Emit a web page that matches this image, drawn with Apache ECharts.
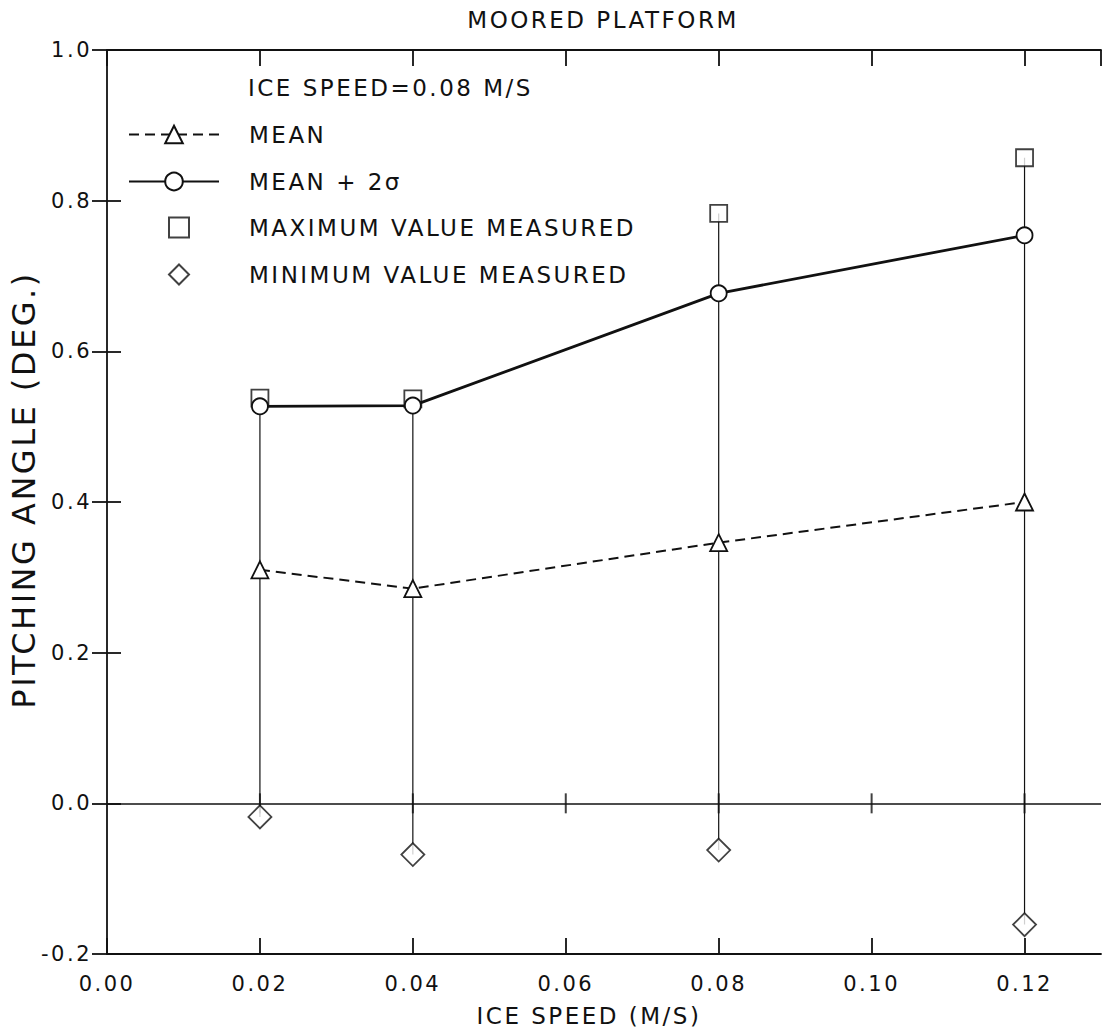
<!DOCTYPE html>
<html>
<head>
<meta charset="utf-8">
<script src="https://cdn.jsdelivr.net/npm/echarts@6/dist/echarts.min.js"></script>
<style>
  html, body { margin: 0; padding: 0; background: #fff; }
  #chart_container { width: 1102px; height: 1036px; }
  /* the original lettering is widely spaced */
  #chart_container text { letter-spacing: 2.5px; }
</style>
</head>
<body>
<div id="chart_container"></div>
<script>
// 数据
var iceSpeed = [0.02, 0.04, 0.08, 0.12]
var meanValues = [0.31, 0.285, 0.346, 0.40]
var mean2sValues = [0.527, 0.528, 0.677, 0.754]
var maxValues = [0.538, 0.537, 0.783, 0.857]
var minValues = [-0.018, -0.068, -0.062, -0.161]
var xTicks = [0.02, 0.04, 0.06, 0.08, 0.10, 0.12]

var FONT = 'DejaVu Sans'
var INK = '#111'

function toPairs(xs, ys) {
  var out = []
  for (var i = 0; i < xs.length; i++) {
    out.push([xs[i], ys[i]])
  }
  return out
}

function draw_pitching_chart() {
  var dom = document.getElementById('chart_container')
  var myChart = echarts.init(dom, null, { renderer: 'svg' })

  var rangeData = []
  for (var i = 0; i < iceSpeed.length; i++) {
    rangeData.push([iceSpeed[i], maxValues[i], minValues[i]])
  }

  var hollow = { color: '#fff', borderColor: INK, borderWidth: 1.8 }

  var option = {
    animation: false,
    backgroundColor: '#fff',
    textStyle: { fontFamily: FONT, color: INK },
    title: [{
      text: 'MOORED PLATFORM',
      left: 598,
      top: 3,
      textAlign: 'center',
      textStyle: { fontFamily: FONT, fontSize: 23, fontWeight: 'normal', color: INK }
    },
    {
      text: 'ICE SPEED=0.08 M/S',
      left: 243,
      top: 71,
      textStyle: { fontFamily: FONT, fontSize: 23, fontWeight: 'normal', color: INK }
    }],
    legend: [{
      orient: 'vertical',
      left: 123,
      top: 118,
      itemWidth: 90,
      itemHeight: 22,
      itemGap: 24,
      selectedMode: false,
      textStyle: { fontFamily: FONT, fontSize: 23, color: INK, padding: [0, 0, 0, 25] },
      data: ['MEAN', 'MEAN + 2σ']
    },
    {
      orient: 'vertical',
      left: 163,
      top: 211,
      itemWidth: 20,
      itemHeight: 20,
      itemGap: 24,
      selectedMode: false,
      textStyle: { fontFamily: FONT, fontSize: 23, color: INK, padding: [0, 0, 0, 55] },
      data: ['MAXIMUM VALUE MEASURED', 'MINIMUM VALUE MEASURED']
    }],
    grid: { left: 107, top: 50, width: 994, height: 904 },
    xAxis: [{
      type: 'value',
      position: 'bottom',
      min: 0,
      max: 0.13,
      interval: 0.02,
      name: 'ICE SPEED (M/S)',
      nameLocation: 'middle',
      nameGap: 50,
      nameTextStyle: { fontFamily: FONT, fontSize: 23, color: INK, padding: [0, 30, 0, 0] },
      axisLine: { onZero: false, lineStyle: { color: INK, width: 1.8 } },
      axisTick: { inside: true, length: 16, lineStyle: { color: INK, width: 1.8 } },
      axisLabel: {
        margin: 19, fontSize: 21, color: INK, fontFamily: FONT, showMaxLabel: false,
        formatter: function (v) { return v.toFixed(2) }
      },
      splitLine: { show: false }
    },
    {
      type: 'value',
      position: 'top',
      min: 0,
      max: 0.13,
      interval: 0.02,
      axisLine: { onZero: false, lineStyle: { color: INK, width: 1.8 } },
      axisTick: { inside: true, length: 16, lineStyle: { color: INK, width: 1.8 } },
      axisLabel: { show: false },
      splitLine: { show: false }
    }],
    yAxis: [{
      type: 'value',
      position: 'left',
      min: -0.2,
      max: 1.0,
      interval: 0.2,
      name: 'PITCHING ANGLE (DEG.)',
      nameLocation: 'middle',
      nameGap: 60,
      nameTextStyle: { fontFamily: FONT, fontSize: 32, color: INK, padding: [0, 0, 0, 24] },
      axisLine: { onZero: false, lineStyle: { color: INK, width: 1.8 } },
      axisTick: { inside: true, length: 14, lineStyle: { color: INK, width: 1.8 } },
      axisLabel: {
        margin: 15, fontSize: 21, color: INK, fontFamily: FONT,
        formatter: function (v) { return v.toFixed(1) }
      },
      splitLine: { show: false }
    },
    {
      type: 'value',
      position: 'right',
      min: -0.2,
      max: 1.0,
      interval: 0.2,
      axisLine: { show: false },
      axisTick: { show: true, inside: true, length: 15, lineStyle: { color: INK, width: 1.8 } },
      axisLabel: { show: false },
      splitLine: { show: false }
    }],
    series: [
      {
        // 最大到最小的竖线
        name: 'range',
        type: 'custom',
        silent: true,
        z: 1,
        renderItem: function (params, api) {
          var top = api.coord([api.value(0), api.value(1)])
          var bottom = api.coord([api.value(0), api.value(2)])
          return {
            type: 'line',
            shape: { x1: top[0], y1: top[1], x2: bottom[0], y2: bottom[1] },
            style: { stroke: INK, lineWidth: 1.2 }
          }
        },
        encode: { x: 0, y: [1, 2] },
        data: rangeData
      },
      {
        // zero line with crossing ticks
        name: 'zero',
        type: 'scatter',
        silent: true,
        z: 1,
        symbol: 'rect',
        symbolSize: [2, 20],
        itemStyle: { color: INK },
        data: toPairs(xTicks, xTicks.map(function () { return 0 })),
        markLine: {
          silent: true,
          symbol: 'none',
          label: { show: false },
          lineStyle: { color: INK, width: 1.6, type: 'solid' },
          data: [{ yAxis: 0 }]
        }
      },
      {
        name: 'MAXIMUM VALUE MEASURED',
        type: 'scatter',
        z: 3,
        symbol: 'rect',
        symbolSize: 17,
        itemStyle: hollow,
        data: toPairs(iceSpeed, maxValues)
      },
      {
        name: 'MINIMUM VALUE MEASURED',
        type: 'scatter',
        z: 3,
        symbol: 'diamond',
        symbolSize: 23,
        itemStyle: hollow,
        data: toPairs(iceSpeed, minValues)
      },
      {
        name: 'MEAN',
        type: 'line',
        z: 4,
        symbol: 'triangle',
        symbolSize: 17,
        itemStyle: hollow,
        lineStyle: { color: INK, width: 2, type: [10, 6] },
        data: toPairs(iceSpeed, meanValues)
      },
      {
        name: 'MEAN + 2σ',
        type: 'line',
        z: 5,
        symbol: 'circle',
        symbolSize: 16,
        itemStyle: hollow,
        lineStyle: { color: INK, width: 2.8 },
        data: toPairs(iceSpeed, mean2sValues)
      }
    ]
  }

  myChart.setOption(option)
  window.addEventListener('resize', myChart.resize)
}

draw_pitching_chart()
</script>
</body>
</html>
